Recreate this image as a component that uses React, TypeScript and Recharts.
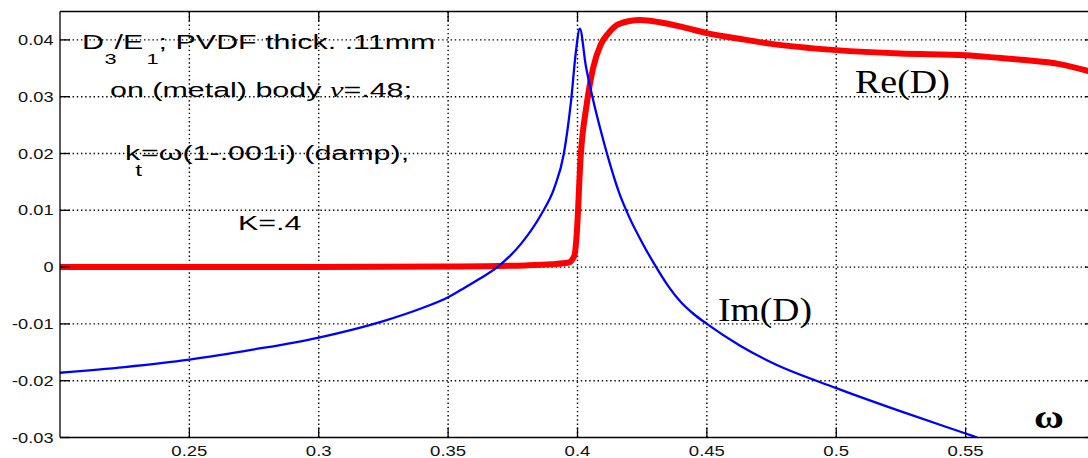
import React from 'react';
import { LineChart, Line, XAxis, YAxis, ReferenceLine, Customized } from 'recharts';

const xTicks = [0.25, 0.3, 0.35, 0.4, 0.45, 0.5, 0.55];
const yTicks = [-0.03, -0.02, -0.01, 0, 0.01, 0.02, 0.03, 0.04];
const xDomain: [number, number] = [0.2, 0.6];
const yDomain: [number, number] = [-0.03, 0.045];

// Im(D) (blue)
const imOmega = [
  0.2, 0.225, 0.25, 0.275, 0.3, 0.325, 0.34, 0.35, 0.355, 0.362, 0.369, 0.378,
  0.386, 0.391, 0.3947, 0.3975, 0.3994, 0.4009, 0.4032, 0.406, 0.409, 0.412,
  0.416, 0.42, 0.425, 0.43, 0.435, 0.44, 0.445, 0.45, 0.4627, 0.475, 0.5, 0.525, 0.55, 0.5545,
];
const imValues = [
  -0.0186, -0.0176, -0.0163, -0.0145, -0.0124, -0.0095, -0.0072, -0.0053, -0.004, -0.0021, 0.0, 0.004,
  0.0093, 0.0139, 0.0199, 0.0292, 0.038, 0.042, 0.0355, 0.0295, 0.024, 0.019,
  0.0132, 0.0088, 0.0043, 0.0003, -0.0033, -0.0062, -0.0083, -0.01, -0.0138, -0.0168, -0.0213, -0.0254, -0.0293, -0.03,
];

// Re(D) (red)
const reOmega = [
  0.2, 0.3, 0.35, 0.38, 0.39, 0.3965, 0.3988, 0.3997, 0.4012, 0.4035, 0.406, 0.409,
  0.412, 0.416, 0.4242, 0.4318, 0.4411, 0.45, 0.4625, 0.4749, 0.5, 0.5246, 0.55,
  0.5636, 0.5714, 0.5868, 0.5976, 0.6,
];
const reValues = [
  0.0, 0.0, 0.0001, 0.0003, 0.0005, 0.0008, 0.002, 0.0058, 0.0193, 0.0285, 0.035, 0.0392,
  0.0412, 0.0428, 0.0435, 0.0431, 0.0422, 0.0412, 0.0402, 0.0393, 0.0382, 0.0376, 0.0373,
  0.0368, 0.0365, 0.0357, 0.0345, 0.0342,
];

const imData = imOmega.map((w, i) => ({ w, v: imValues[i] }));
const reData = reOmega.map((w, i) => ({ w, v: reValues[i] }));

const SANS = 'Liberation Sans, Arial, Helvetica, sans-serif';
const SERIF = 'Liberation Serif, Times New Roman, serif';

const LeftTick = (props: any) => {
  const { x, y, payload } = props;
  return (
    <g>
      <line x1={x} y1={y} x2={x + 10} y2={y} stroke="#000" strokeWidth={1.3} />
      <text
        transform={`translate(${x - 6.5},${y + 5}) scale(1.3,1)`}
        textAnchor="end"
        fontSize={14}
        fontFamily={SANS}
        fill="#111"
      >
        {String(payload.value)}
      </text>
    </g>
  );
};

const RightTick = (props: any) => {
  const { x, y } = props;
  return <line x1={x} y1={y} x2={x - 10} y2={y} stroke="#000" strokeWidth={1.3} />;
};

const BottomTick = (props: any) => {
  const { x, y, payload } = props;
  return (
    <g>
      <line x1={x} y1={y} x2={x} y2={y - 10} stroke="#000" strokeWidth={1.3} />
      <text
        transform={`translate(${x},${y + 18}) scale(1.28,1)`}
        textAnchor="middle"
        fontSize={14.5}
        fontFamily={SANS}
        fill="#111"
      >
        {String(payload.value)}
      </text>
    </g>
  );
};

const TopTick = (props: any) => {
  const { x, y } = props;
  return <line x1={x} y1={y} x2={x} y2={y + 10} stroke="#000" strokeWidth={1.3} />;
};

const Annotations = () => (
  <g fill="#000">
    <text transform="translate(82,49) scale(1.45,1)" fontSize={21} fontFamily={SANS}>
      <tspan x={0}>D</tspan>
      <tspan x={15.5} dy={15} fontSize={15}>3</tspan>
      <tspan x={22.5} dy={-15}>/E</tspan>
      <tspan x={44.5} dy={15} fontSize={15}>1</tspan>
      <tspan dy={-15}>; PVDF thick. .11mm</tspan>
    </text>
    <text transform="translate(110,97) scale(1.45,1)" fontSize={21} fontFamily={SANS}>
      on (metal) body <tspan fontFamily={SERIF} fontStyle="italic">ν</tspan>=.48;
    </text>
    <text transform="translate(125,160) scale(1.45,1)" fontSize={21} fontFamily={SANS}>
      <tspan x={0}>k</tspan>
      <tspan x={7} dy={16} fontSize={17}>t</tspan>
      <tspan x={11} dy={-16}>=ω(1-.001i) (damp),</tspan>
    </text>
    <text transform="translate(238,230) scale(1.45,1)" fontSize={21} fontFamily={SANS}>
      K=.4
    </text>
    <text transform="translate(855,93) scale(1.15,1)" fontSize={33} fontFamily={SERIF}>
      Re(D)
    </text>
    <text transform="translate(718,321) scale(1.14,1)" fontSize={33} fontFamily={SERIF}>
      Im(D)
    </text>
    <text transform="translate(1034,428) scale(1.2,1)" fontSize={34} fontWeight="bold" fontFamily={SERIF}>
      ω
    </text>
  </g>
);

export default function App() {
  return (
    <div
      style={{
        position: 'fixed',
        left: 0,
        top: 0,
        width: 1088,
        height: 458,
        overflow: 'hidden',
        background: '#fff',
      }}
    >
      <LineChart width={1101} height={458} margin={{ top: 0, right: 0, bottom: 0, left: 0 }}>
        <XAxis
          xAxisId={0}
          dataKey="w"
          type="number"
          domain={xDomain}
          ticks={xTicks}
          interval={0}
          allowDataOverflow
          height={20.5}
          tickSize={0}
          tickMargin={0}
          tickLine={false}
          axisLine={{ stroke: '#000', strokeWidth: 1.3 }}
          tick={<BottomTick />}
        />
        <XAxis
          xAxisId="top"
          orientation="top"
          dataKey="w"
          type="number"
          domain={xDomain}
          ticks={xTicks}
          interval={0}
          allowDataOverflow
          height={11.5}
          tickSize={0}
          tickMargin={0}
          tickLine={false}
          axisLine={{ stroke: '#000', strokeWidth: 1.3 }}
          tick={<TopTick />}
        />
        <YAxis
          yAxisId={0}
          type="number"
          domain={yDomain}
          ticks={yTicks}
          interval={0}
          allowDataOverflow
          width={60}
          tickSize={0}
          tickMargin={0}
          tickLine={false}
          axisLine={{ stroke: '#000', strokeWidth: 1.3 }}
          tick={<LeftTick />}
        />
        <YAxis
          yAxisId="right"
          orientation="right"
          type="number"
          domain={yDomain}
          ticks={yTicks}
          interval={0}
          allowDataOverflow
          width={6}
          tickSize={0}
          tickMargin={0}
          tickLine={false}
          axisLine={{ stroke: '#000', strokeWidth: 1.3 }}
          tick={<RightTick />}
        />
        {xTicks.map((t) => (
          <ReferenceLine key={`gx${t}`} x={t} stroke="#000" strokeWidth={1.4} strokeDasharray="1.4 2.8" />
        ))}
        {yTicks.slice(1).map((t) => (
          <ReferenceLine key={`gy${t}`} y={t} stroke="#000" strokeWidth={1.4} strokeDasharray="1.4 2.8" />
        ))}
        <Line
          data={reData}
          dataKey="v"
          type="monotone"
          stroke="#FF0000"
          strokeWidth={6}
          strokeLinejoin="round"
          dot={false}
          isAnimationActive={false}
        />
        <Line
          data={imData}
          dataKey="v"
          type="monotone"
          stroke="#0000FF"
          strokeWidth={2.3}
          strokeLinejoin="round"
          dot={false}
          isAnimationActive={false}
        />
        <Customized component={Annotations} />
      </LineChart>
    </div>
  );
}
